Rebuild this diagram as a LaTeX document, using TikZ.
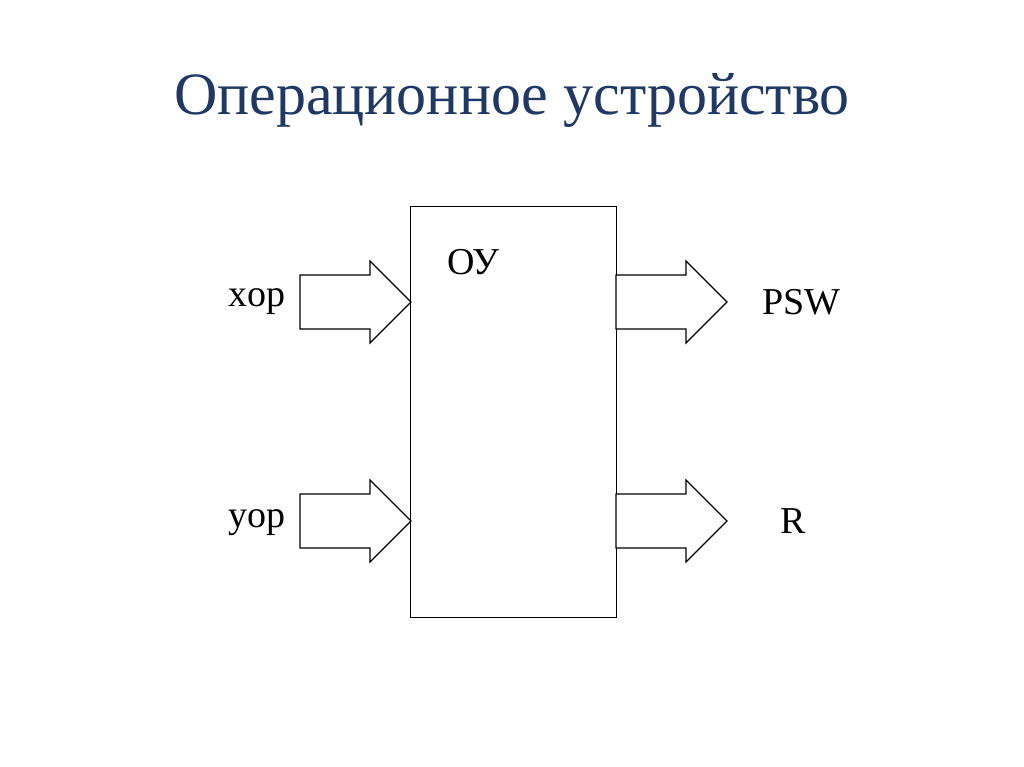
\documentclass[tikz,border=0pt]{standalone}
\usepackage{fontspec}
\setmainfont{Liberation Serif}
\definecolor{titleblue}{RGB}{31,56,100}
\begin{document}
\begin{tikzpicture}[x=1pt,y=-1pt,
  fat/.style={draw=black,line width=1.2pt,fill=white},
  lbl/.style={font=\fontsize{38}{40}\selectfont,inner sep=0pt}]
\useasboundingbox (0,0) rectangle (1024,767);
\node[font=\fontsize{60}{64}\selectfont,text=titleblue] (title) at (512,100) {Операционное устройство};
\node[fat,minimum width=206,minimum height=411,anchor=north west,inner sep=0pt] (box) at (410,206) {};
\node[lbl,anchor=west] (ou) at (447,262) {ОУ};
% arrows
\foreach \nm/\x/\y in {a/300/302,b/300/521,c/616/302,d/616/521}{
  \draw[fat] (\x,\y-27) -- (\x+70,\y-27) -- (\x+70,\y-41) -- (\x+111,\y) -- (\x+70,\y+41) -- (\x+70,\y+27) -- (\x,\y+27) -- cycle;
  \coordinate (\nm) at (\x,\y);
}
\node[lbl,anchor=east] (xop) at (286,302) {xop};
\node[lbl,anchor=east] (yop) at (286,523) {yop};
\node[lbl,anchor=west] (psw) at (762,302) {PSW};
\node[lbl,anchor=west] (r) at (780,521) {R};
\end{tikzpicture}
\end{document}
